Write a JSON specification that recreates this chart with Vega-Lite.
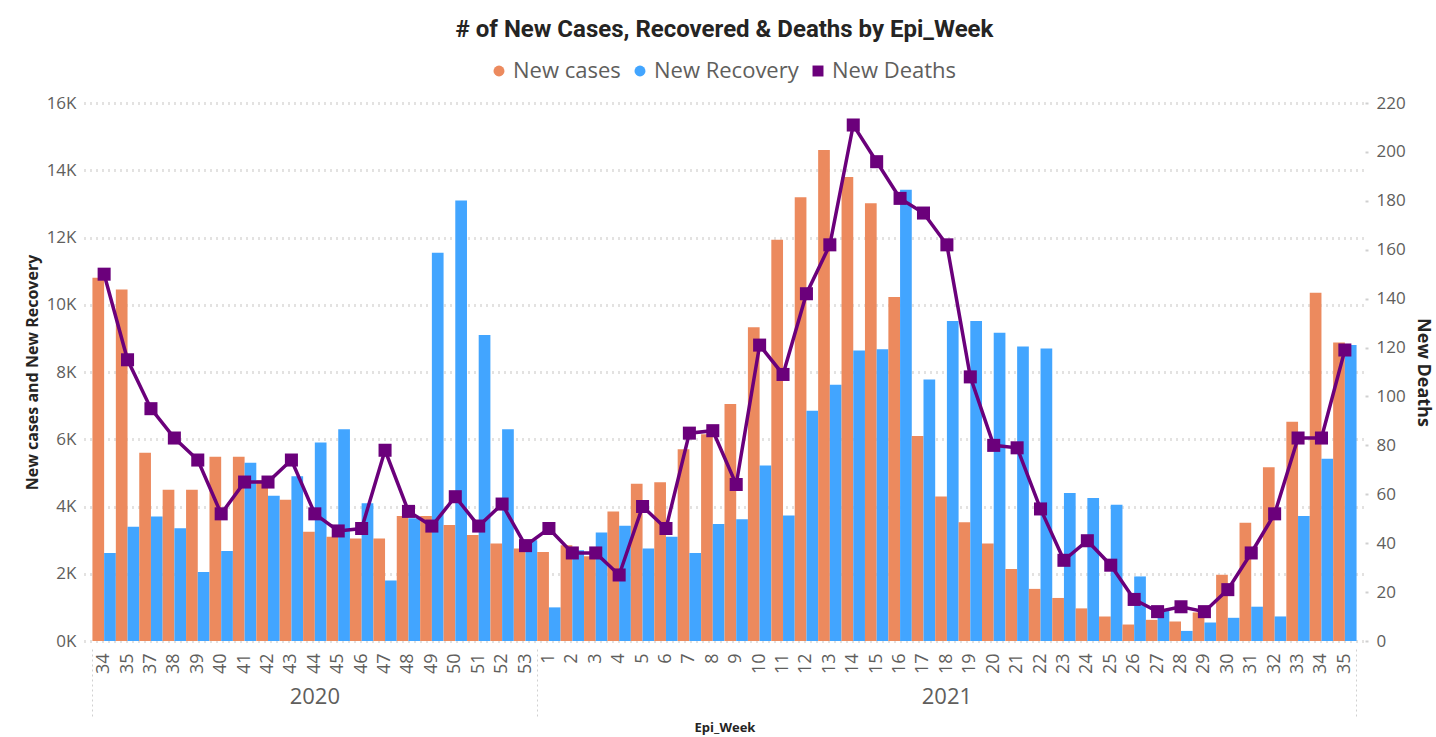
{
  "$schema": "https://vega.github.io/schema/vega-lite/v6.json",
  "width": 1281,
  "height": 538,
  "autosize": {"type": "none"},
  "padding": {"left": 84, "top": 103, "right": 71, "bottom": 96},
  "background": "white",
  "title": {
    "text": "# of New Cases, Recovered & Deaths by Epi_Week",
    "anchor": "middle",
    "font": "Roboto",
    "fontSize": 24,
    "fontWeight": "bold",
    "color": "#252423",
    "offset": 18
  },
  "config": {
    "view": {"stroke": null},
    "axis": {"labelFont": "Open Sans", "titleFont": "Open Sans", "labelColor": "#605E5C", "titleColor": "#252423"}
  },
  "data": {
    "values": [
      {"ew": "2020-34", "New cases": 10800, "New Recovery": 2620, "New Deaths": 150},
      {"ew": "2020-35", "New cases": 10450, "New Recovery": 3400, "New Deaths": 115},
      {"ew": "2020-37", "New cases": 5600, "New Recovery": 3700, "New Deaths": 95},
      {"ew": "2020-38", "New cases": 4500, "New Recovery": 3350, "New Deaths": 83},
      {"ew": "2020-39", "New cases": 4500, "New Recovery": 2050, "New Deaths": 74},
      {"ew": "2020-40", "New cases": 5480, "New Recovery": 2680, "New Deaths": 52},
      {"ew": "2020-41", "New cases": 5480, "New Recovery": 5300, "New Deaths": 65},
      {"ew": "2020-42", "New cases": 4780, "New Recovery": 4320, "New Deaths": 65},
      {"ew": "2020-43", "New cases": 4200, "New Recovery": 4900, "New Deaths": 74},
      {"ew": "2020-44", "New cases": 3250, "New Recovery": 5900, "New Deaths": 52},
      {"ew": "2020-45", "New cases": 3100, "New Recovery": 6300, "New Deaths": 45},
      {"ew": "2020-46", "New cases": 3050, "New Recovery": 4100, "New Deaths": 46},
      {"ew": "2020-47", "New cases": 3050, "New Recovery": 1800, "New Deaths": 78},
      {"ew": "2020-48", "New cases": 3720, "New Recovery": 3650, "New Deaths": 53},
      {"ew": "2020-49", "New cases": 3720, "New Recovery": 11550, "New Deaths": 47},
      {"ew": "2020-50", "New cases": 3450, "New Recovery": 13100, "New Deaths": 59},
      {"ew": "2020-51", "New cases": 3150, "New Recovery": 9100, "New Deaths": 47},
      {"ew": "2020-52", "New cases": 2900, "New Recovery": 6300, "New Deaths": 56},
      {"ew": "2020-53", "New cases": 2750, "New Recovery": 3000, "New Deaths": 39},
      {"ew": "2021-1", "New cases": 2650, "New Recovery": 1000, "New Deaths": 46},
      {"ew": "2021-2", "New cases": 2850, "New Recovery": 2700, "New Deaths": 36},
      {"ew": "2021-3", "New cases": 2520, "New Recovery": 3230, "New Deaths": 36},
      {"ew": "2021-4", "New cases": 3850, "New Recovery": 3430, "New Deaths": 27},
      {"ew": "2021-5", "New cases": 4680, "New Recovery": 2750, "New Deaths": 55},
      {"ew": "2021-6", "New cases": 4720, "New Recovery": 3100, "New Deaths": 46},
      {"ew": "2021-7", "New cases": 5700, "New Recovery": 2620, "New Deaths": 85},
      {"ew": "2021-8", "New cases": 6150, "New Recovery": 3480, "New Deaths": 86},
      {"ew": "2021-9", "New cases": 7050, "New Recovery": 3620, "New Deaths": 64},
      {"ew": "2021-10", "New cases": 9330, "New Recovery": 5220, "New Deaths": 121},
      {"ew": "2021-11", "New cases": 11930, "New Recovery": 3730, "New Deaths": 109},
      {"ew": "2021-12", "New cases": 13200, "New Recovery": 6850, "New Deaths": 142},
      {"ew": "2021-13", "New cases": 14600, "New Recovery": 7620, "New Deaths": 162},
      {"ew": "2021-14", "New cases": 13800, "New Recovery": 8640, "New Deaths": 211},
      {"ew": "2021-15", "New cases": 13020, "New Recovery": 8680, "New Deaths": 196},
      {"ew": "2021-16", "New cases": 10230, "New Recovery": 13420, "New Deaths": 181},
      {"ew": "2021-17", "New cases": 6100, "New Recovery": 7780, "New Deaths": 175},
      {"ew": "2021-18", "New cases": 4300, "New Recovery": 9520, "New Deaths": 162},
      {"ew": "2021-19", "New cases": 3530, "New Recovery": 9520, "New Deaths": 108},
      {"ew": "2021-20", "New cases": 2900, "New Recovery": 9170, "New Deaths": 80},
      {"ew": "2021-21", "New cases": 2140, "New Recovery": 8760, "New Deaths": 79},
      {"ew": "2021-22", "New cases": 1550, "New Recovery": 8700, "New Deaths": 54},
      {"ew": "2021-23", "New cases": 1280, "New Recovery": 4400, "New Deaths": 33},
      {"ew": "2021-24", "New cases": 970, "New Recovery": 4250, "New Deaths": 41},
      {"ew": "2021-25", "New cases": 730, "New Recovery": 4050, "New Deaths": 31},
      {"ew": "2021-26", "New cases": 490, "New Recovery": 1920, "New Deaths": 17},
      {"ew": "2021-27", "New cases": 630, "New Recovery": 950, "New Deaths": 12},
      {"ew": "2021-28", "New cases": 580, "New Recovery": 300, "New Deaths": 14},
      {"ew": "2021-29", "New cases": 850, "New Recovery": 550, "New Deaths": 12},
      {"ew": "2021-30", "New cases": 1970, "New Recovery": 690, "New Deaths": 21},
      {"ew": "2021-31", "New cases": 3520, "New Recovery": 1020, "New Deaths": 36},
      {"ew": "2021-32", "New cases": 5170, "New Recovery": 730, "New Deaths": 52},
      {"ew": "2021-33", "New cases": 6520, "New Recovery": 3720, "New Deaths": 83},
      {"ew": "2021-34", "New cases": 10360, "New Recovery": 5420, "New Deaths": 83},
      {"ew": "2021-35", "New cases": 8880, "New Recovery": 8800, "New Deaths": 119}
    ]
  },
  "layer": [
    {
      "transform": [{"fold": ["New cases", "New Recovery"], "as": ["series", "value"]}],
      "mark": {"type": "bar"},
      "encoding": {
        "x": {
          "field": "ew", "type": "nominal", "sort": null,
          "scale": {"paddingInner": 0, "paddingOuter": 0.36},
          "axis": {
            "orient": "bottom",
            "title": null, "labelAngle": -90, "labelExpr": "split(datum.value, '-')[1]",
            "labelFontSize": 18, "labelPadding": 12, "ticks": false, "domain": false, "grid": false
          }
        },
        "xOffset": {"field": "series", "type": "nominal", "sort": ["New cases", "New Recovery"], "scale": {"paddingInner": 0, "paddingOuter": 0}},
        "y": {
          "field": "value", "type": "quantitative",
          "scale": {"domain": [0, 16000], "nice": false},
          "axis": {
            "title": "New cases and New Recovery", "titleFontSize": 16, "titleFontWeight": "bold", "titlePadding": 6,
            "values": [0, 2000, 4000, 6000, 8000, 10000, 12000, 14000, 16000],
            "labelExpr": "datum.value / 1000 + 'K'", "labelFontSize": 17, "labelPadding": 8,
            "ticks": false, "domain": false,
            "grid": true, "gridColor": "#C8C6C4", "gridDash": [1, 5], "gridWidth": 3
          }
        },
        "color": {
          "field": "series", "type": "nominal",
          "scale": {"domain": ["New cases", "New Recovery", "New Deaths"], "range": ["#EC8A5E", "#42A5FF", "#6B007B"]},
          "legend": {
            "title": null, "orient": "none", "direction": "horizontal", "legendX": 404, "legendY": -43,
            "labelFont": "Open Sans", "labelFontSize": 22, "labelColor": "#605E5C", "labelOffset": 3,
            "columnPadding": 8, "symbolSize": 120,
            "encode": {
              "symbols": {
                "update": {
                  "shape": {"signal": "datum.value === 'New Deaths' ? 'square' : 'circle'"},
                  "fill": {"scale": "color", "field": "value"},
                  "strokeWidth": {"value": 0},
                  "opacity": {"value": 1}
                }
              }
            }
          }
        }
      }
    },
    {
      "mark": {"type": "line", "strokeWidth": 3.5, "point": {"shape": "square", "size": 170, "filled": true, "opacity": 1}},
      "encoding": {
        "x": {
          "field": "ew", "type": "nominal", "sort": null,
          "axis": {
            "orient": "bottom",
            "title": "Epi_Week", "titleFontSize": 13, "titleFontWeight": "bold", "titlePadding": 2,
            "labelAngle": 0, "labelFontSize": 22, "labelPadding": -33,
            "labelExpr": "datum.value == '2020-44' ? '2020' : datum.value == '2021-18' ? '2021' : ''",
            "offset": 8, "domain": false, "grid": false,
            "bandPosition": 0, "tickSize": 70, "tickDash": [2, 3], "tickWidth": 1,
            "tickColor": {"condition": {"test": "datum.value == '2020-34' || datum.value == '2021-1'", "value": "#D0D0D0"}, "value": "transparent"}
          }
        },
        "y": {
          "field": "New Deaths", "type": "quantitative",
          "scale": {"domain": [0, 220], "nice": false},
          "axis": {
            "orient": "right", "title": "New Deaths", "titleFontSize": 18, "titleFontWeight": "bold", "titlePadding": 8,
            "values": [0, 20, 40, 60, 80, 100, 120, 140, 160, 180, 200, 220],
            "labelFontSize": 17, "labelPadding": 8, "ticks": true, "tickSize": 3, "tickWidth": 2, "tickColor": "#D0D0D0",
            "domain": false, "grid": false
          }
        },
        "color": {"datum": "New Deaths", "type": "nominal"}
      }
    },
    {
      "mark": {"type": "point", "opacity": 0},
      "encoding": {
        "x": {
          "field": "ew", "type": "nominal", "sort": null,
          "axis": {
            "orient": "bottom", "title": null, "labels": false,
            "offset": 8, "domain": false, "grid": false,
            "bandPosition": 1, "tickSize": 70, "tickDash": [2, 3], "tickWidth": 1,
            "tickColor": {"condition": {"test": "datum.value == '2021-35'", "value": "#D0D0D0"}, "value": "transparent"}
          }
        }
      }
    }
  ],
  "resolve": {"scale": {"y": "independent"}, "axis": {"x": "independent"}}
}
